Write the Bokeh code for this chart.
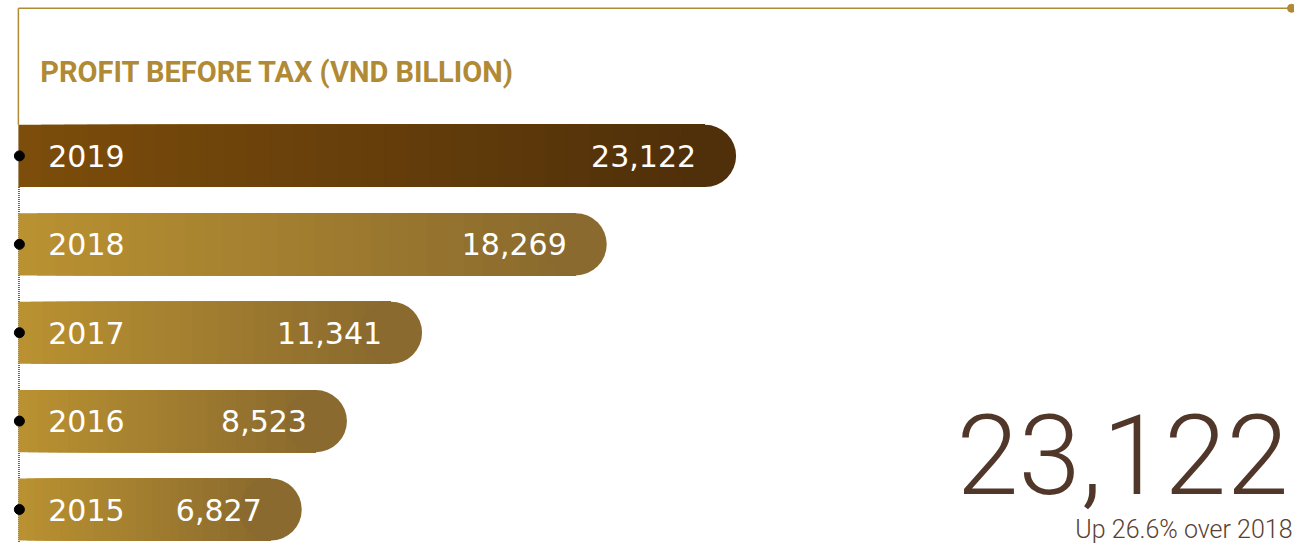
from bokeh.plotting import figure
from bokeh.models import Range1d, Label, ColumnDataSource
from bokeh.core.properties import value
from bokeh.embed import file_html
from bokeh.resources import INLINE

# ---- data ----
years = ["2019", "2018", "2017", "2016", "2015"]
profit = [23122, 18269, 11341, 8523, 6827]
title_text = "PROFIT BEFORE TAX (VND BILLION)"

# ---- layout (reference-pixel helpers) ----
W, H = 1294, 543
REF_W, REF_H = 1302, 559
K = 0.02682          # ref px per VND bn
ZERO_PX = 120.0      # ref x of value 0
def dx(px):
    return (px - ZERO_PX) / K

BAR_LEFT = dx(18)
centers = [160 + i * 91 for i in range(len(years))]
BAR_H = 64
CAP_R_DATA_Y = BAR_H / 2
cap_r_px = CAP_R_DATA_Y * H / REF_H
cap_r_x = cap_r_px / (K * W / REF_W)

p = figure(width=W, height=H, output_backend="svg", toolbar_location=None,
           x_range=Range1d(dx(0), dx(REF_W)), y_range=Range1d(REF_H, 0),
           min_border=0, outline_line_color=None)
p.axis.visible = False
p.grid.visible = False
p.background_fill_color = "white"
p.border_fill_color = "white"

GOLD = "#b08a35"

# frame lines
p.segment(x0=[dx(18)], y0=[8], x1=[dx(1297)], y1=[8], line_color=GOLD, line_width=1.5)
p.segment(x0=[dx(18)], y0=[8], x1=[dx(18)], y1=[128], line_color=GOLD, line_width=1.5)
p.scatter(x=[dx(1299)], y=[8], size=8, color=GOLD)
p.segment(x0=[dx(18.6)], y0=[192], x1=[dx(18.6)], y1=[REF_H], line_color="black",
          line_width=1.2, line_dash="1 1")

def lerp(c1, c2, t):
    a = [int(c1[i:i+2], 16) for i in (1, 3, 5)]
    b = [int(c2[i:i+2], 16) for i in (1, 3, 5)]
    return "#%02x%02x%02x" % tuple(round(a[j] + (b[j] - a[j]) * t) for j in range(3))

grad = {"2019": ("#7c4d0b", "#50300a")}
default_grad = ("#b99131", "#8a6a2e")

N = 30
lefts, rights, ys, cols = [], [], [], []
cap_x, cap_col = [], []
for yr, v, c in zip(years, profit, centers):
    c1, c2 = grad.get(yr, default_grad)
    end = v - cap_r_x
    for i in range(N):
        t = i / (N - 1)
        lefts.append(BAR_LEFT + (end - BAR_LEFT) * i / N)
        rights.append(end)
        ys.append(c)
        cols.append(lerp(c1, c2, t))
    cap_x.append(end)
    cap_col.append(c2)
src = ColumnDataSource(dict(left=lefts, right=rights, y=ys, color=cols))
p.hbar(y="y", left="left", right="right", height=BAR_H, source=src,
       fill_color="color", line_color=None)
p.circle(x=cap_x, y=centers, radius=CAP_R_DATA_Y, radius_dimension="y",
         fill_color=cap_col, line_color=None)

# dots
p.scatter(x=[dx(19)] * len(years), y=centers, size=10, color="black")

lab = ColumnDataSource(dict(
    y=centers, year=years, val=profit,
    vtxt=["{:,}".format(v) for v in profit],
    xl=[dx(48)] * len(years)))
p.text(x="xl", y="y", text="year", source=lab, text_color="white",
       text_font=value("DejaVu Sans"), text_font_size="30px",
       text_baseline="middle", text_align="left")
p.text(x="val", y="y", text="vtxt", source=lab, x_offset=-40, text_color="white",
       text_font=value("DejaVu Sans"), text_font_size="30px",
       text_baseline="middle", text_align="right")

p.add_layout(Label(x=dx(40), y=74, text=title_text, text_color=GOLD,
                   text_font="Roboto", text_font_style="bold",
                   text_font_size="29px", text_baseline="middle", text_align="left"))

growth = (profit[0] / profit[1] - 1) * 100
p.add_layout(Label(x=dx(1296), y=467, text="{:,}".format(profit[0]),
                   text_color="#51372a", text_font="Roboto Light",
                   text_font_size="112px", text_baseline="alphabetic", text_align="right"))
p.add_layout(Label(x=dx(1300), y=545,
                   text="Up {:.1f}% over {}".format(growth, years[1]),
                   text_color="#5a4030", text_font="Roboto Light",
                   text_font_size="25px", text_baseline="alphabetic", text_align="right"))

open("out.html", "w").write(file_html(p, INLINE))
